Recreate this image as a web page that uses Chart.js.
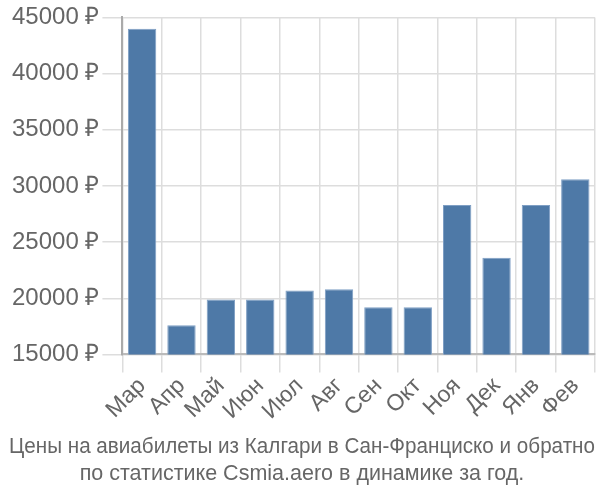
<!DOCTYPE html>
<html>
<head>
<meta charset="utf-8">
<script src="https://cdn.jsdelivr.net/npm/chart.js@4/dist/chart.umd.min.js"></script>
<style>
  body { margin: 0; background: #fff; }
</style>
</head>
<body>
<canvas id="chart" width="600" height="500"></canvas>
<script>
// Data
const months = ["Мар", "Апр", "Май", "Июн", "Июл", "Авг", "Сен", "Окт", "Ноя", "Дек", "Янв", "Фев"];
const prices = [44000, 17600, 19900, 19900, 20700, 20800, 19200, 19200, 28300, 23600, 28300, 30600];
const titleLines = ["Цены на авиабилеты из Калгари в Сан-Франциско и обратно", "по статистике Csmia.aero в динамике за год."];

const textColor = "#666";

new Chart(document.getElementById("chart"), {
    type: "bar",
    data: {
        labels: months,
        datasets: [{
            data: prices,
            backgroundColor: "#4e79a7",
            borderColor: "#7f9fc4",
            borderWidth: 1,
            categoryPercentage: 0.72,
            barPercentage: 1
        }]
    },
    options: {
        responsive: false,
        devicePixelRatio: 1,
        animation: false,
        layout: { padding: { top: -2, right: 5, left: 9, bottom: 12 } },
        plugins: {
            legend: { display: false },
            tooltip: { enabled: false },
            title: {
                display: true,
                position: "bottom",
                text: titleLines,
                color: textColor,
                font: { family: "Liberation Sans", size: 21.5, weight: "normal", lineHeight: 1.28 },
                padding: { top: 8, bottom: 0 }
            }
        },
        scales: {
            x: {
                grid: { color: "#dddddd", lineWidth: 1.5, tickLength: 18 },
                border: { color: "#bbbbbb", width: 2 },
                ticks: {
                    color: textColor,
                    font: { family: "Liberation Sans", size: 23 },
                    maxRotation: 45,
                    minRotation: 45,
                    autoSkip: false,
                    padding: 0
                }
            },
            y: {
                min: 15000,
                max: 45000,
                grid: { color: "#dddddd", lineWidth: 1.5, tickLength: 20 },
                border: { color: "#aaaaaa", width: 2 },
                ticks: {
                    stepSize: 5000,
                    color: textColor,
                    font: { family: "Liberation Sans", size: 24 },
                    padding: 3,
                    callback: (v) => v + " ₽"
                }
            }
        }
    }
});
</script>
</body>
</html>
